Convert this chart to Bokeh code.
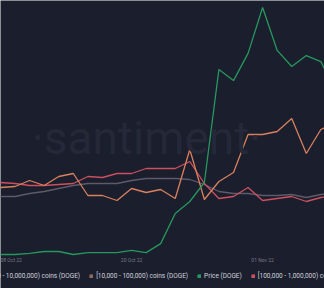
from bokeh.plotting import figure
from bokeh.models import Range1d, FixedTicker, Legend, LegendItem, Label, ColumnDataSource
from bokeh.embed import file_html
from bokeh.resources import INLINE

# ---- data ----
idx = list(range(-1, 24))
tick_idx = [0, 9, 18]
tick_labels = ["08 Oct 22", "20 Oct 22", "01 Nov 22"]

holders_1m_10m = [68, 69, 70, 76, 71, 80, 83, 61, 61, 56, 68, 64, 67, 58, 107, 57, 75, 84, 122, 122, 125, 138, 103, 127, 134]
holders_10k_100k = [60, 60, 60, 63, 65, 68, 71, 73, 73, 73, 76, 78, 78, 78, 77, 72, 65, 63, 63, 61, 61, 62, 59, 62, 64]
holders_100k_1m = [74, 74, 73, 71, 71, 72, 73, 80, 79, 83, 83, 88, 88, 88, 95, 73, 58, 60, 69, 56, 58, 60, 55, 59, 61]
price_doge = [0.0590, 0.0590, 0.0590, 0.0594, 0.0601, 0.0601, 0.0590, 0.0597, 0.0597, 0.0597, 0.0605, 0.0597,
              0.0630, 0.0741, 0.0785, 0.0855, 0.1271, 0.1230, 0.1330, 0.1499, 0.1341, 0.1282, 0.1322, 0.1300, 0.1194]

series_names = ["[1,000,000 - 10,000,000) coins (DOGE)", "[10,000 - 100,000) coins (DOGE)",
                "Price (DOGE)", "[100,000 - 1,000,000) coins (DOGE)"]

BG = "#1b1e2c"
C_ORANGE = "#d9805e"
C_GRAY = "#5e5a68"
C_BROWN = "#8a6a5a"
C_GREEN = "#26985e"
C_RED = "#cc5060"

src = ColumnDataSource(dict(x=idx, a=holders_1m_10m, b=holders_10k_100k, c=holders_100k_1m, p=price_doge))

p = figure(frame_width=324, frame_height=288, min_border_left=0, min_border_right=0,
           min_border_top=0, min_border_bottom=0, toolbar_location=None, output_backend="svg",
           x_range=Range1d(0, 22.25), y_range=Range1d(-32, 256), y_axis_location=None,
           background_fill_color=BG, border_fill_color=BG, outline_line_color=None)
p.extra_y_ranges = {"price": Range1d(0.046488, 0.152472)}
p.grid.visible = False

wm = Label(x=146, y=151, x_units="screen", y_units="screen", text="\u00b7santiment\u00b7",
           text_font="Roboto", text_font_size="46px", text_color="#242838",
           text_align="center", text_baseline="alphabetic")
p.add_layout(wm)

p.line("x", "b", source=src, line_color=C_GRAY, line_width=1.3)
p.line("x", "c", source=src, line_color=C_RED, line_width=1.3)
p.line("x", "a", source=src, line_color=C_ORANGE, line_width=1.3)
p.line("x", "p", source=src, y_range_name="price", line_color=C_GREEN, line_width=1.3)

ax = p.xaxis[0]
ax.fixed_location = 3
ax.ticker = FixedTicker(ticks=tick_idx)
ax.major_label_overrides = {t: l for t, l in zip(tick_idx, tick_labels)}
ax.axis_line_color = None
ax.major_tick_line_color = None
ax.minor_tick_line_color = None
ax.major_tick_out = 0
ax.major_tick_in = 0
ax.major_label_text_font = "Roboto"
ax.major_label_text_font_size = "5px"
ax.major_label_text_color = "#767a8a"
ax.major_label_standoff = 3

# legend (square swatches; renderers hold no drawable point)
leg_colors = [C_ORANGE, C_BROWN, C_GREEN, C_RED]
items = []
for name, col in zip(series_names, leg_colors):
    r = p.rect(x=[float("nan")], y=[float("nan")], width=1, height=1, fill_color=col, line_color=col)
    items.append(LegendItem(label=name, renderers=[r]))

leg = Legend(items=items, location=(-36, 8), orientation="horizontal",
             glyph_width=4, glyph_height=4, label_standoff=3, spacing=9,
             padding=0, margin=0, label_height=8, label_width=10,
             label_text_font="Roboto", label_text_font_size="6.5px", label_text_color="#d0d3dc",
             border_line_alpha=0, background_fill_alpha=0)
p.add_layout(leg, "center")

open("out.html", "w").write(file_html(p, INLINE))
